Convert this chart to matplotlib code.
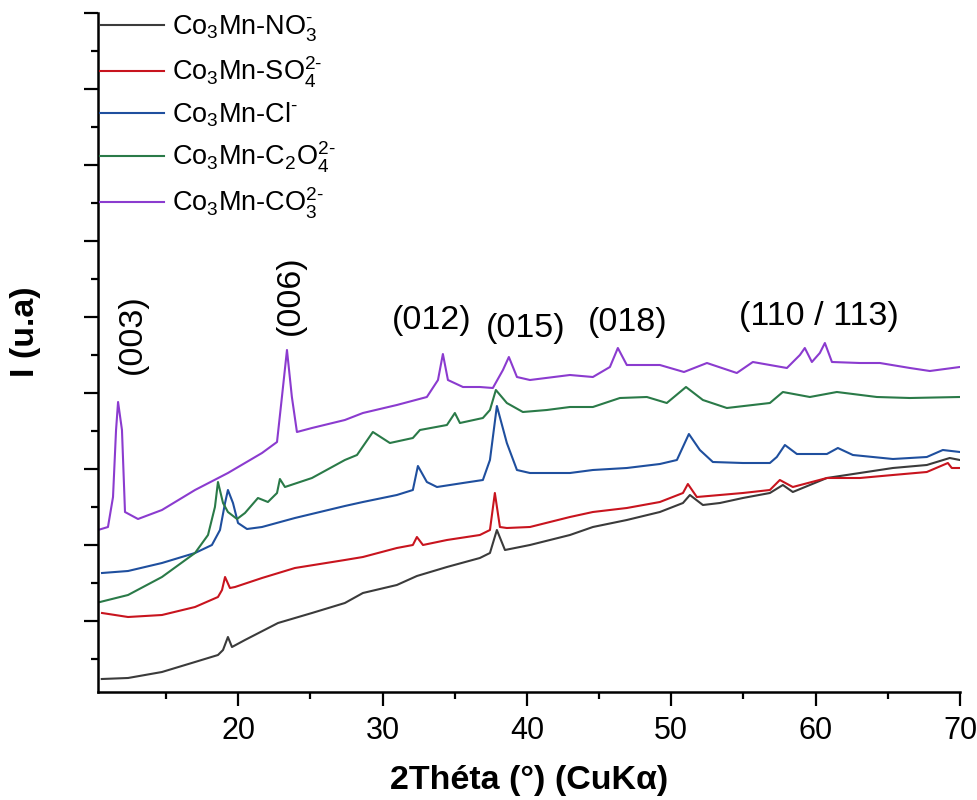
import matplotlib
matplotlib.use("Agg")
import matplotlib.pyplot as plt
import numpy as np

plt.rcParams['font.family'] = ['Liberation Sans', 'DejaVu Sans']
plt.rcParams['mathtext.fontset'] = 'custom'
plt.rcParams['mathtext.rm'] = 'Liberation Sans'
plt.rcParams['mathtext.it'] = 'Liberation Sans:italic'
plt.rcParams['mathtext.bf'] = 'Liberation Sans:bold'

# ---------------- data (2theta in degrees, intensity in a.u.) ----------------
x_no3 = [10.55, 12.37, 14.72, 17.01, 18.6, 18.95, 19.29, 19.57, 20.47, 22.76, 25.11, 27.39, 28.64,
         30.99, 32.38, 34.46, 36.74, 37.44, 37.92, 38.48, 40.21, 42.98, 44.57, 46.92, 49.21, 50.81,
         51.29, 52.19, 53.37, 54.96, 56.83, 57.73, 58.42, 60.78, 63.06, 65.35, 67.7, 69.29, 69.99]
y_no3 = [13, 14, 20, 30, 37, 42, 55, 45, 52, 69, 79, 89, 99, 107, 116, 125, 134, 139, 162, 142, 147,
         157, 165, 172, 180, 189, 197, 187, 189, 194, 199, 207, 200, 214, 219, 224, 227, 234, 232]

x_so4 = [10.57, 12.37, 14.72, 17.01, 18.6, 18.88, 19.09, 19.43, 19.78, 21.65, 23.93, 27.39, 28.64,
         30.99, 32.1, 32.38, 32.8, 34.46, 36.74, 37.44, 37.78, 38.13, 38.61, 40.21, 42.98, 44.57,
         46.92, 49.21, 50.81, 51.15, 51.77, 53.37, 54.96, 56.83, 57.52, 58.42, 60.78, 63.06, 65.35,
         67.7, 69.16, 69.43, 69.99]
y_so4 = [79, 75, 77, 85, 95, 102, 115, 104, 105, 114, 124, 132, 135, 144, 147, 155, 147, 152, 157,
         162, 199, 165, 164, 165, 175, 180, 184, 190, 199, 208, 195, 197, 199, 202, 212, 205, 214,
         214, 217, 220, 229, 224, 224]

x_cl = [10.57, 12.37, 14.72, 17.01, 18.18, 18.74, 19.09, 19.29, 19.64, 19.99, 20.61, 21.65, 23.93,
        27.39, 28.64, 30.99, 32.1, 32.45, 33.07, 33.77, 35.57, 36.95, 37.44, 37.92, 38.61, 39.31,
        40.21, 42.98, 44.57, 46.92, 49.21, 50.39, 51.22, 51.98, 52.88, 54.96, 56.83, 57.31, 57.87,
        58.7, 60.78, 61.54, 62.58, 65.35, 67.7, 68.81, 69.99]
y_cl = [119, 121, 129, 139, 147, 162, 189, 202, 189, 169, 163, 165, 174, 186, 190, 197, 202, 226,
        210, 205, 209, 212, 232, 286, 249, 222, 219, 219, 222, 224, 228, 232, 258, 242, 230, 229,
        229, 235, 247, 238, 238, 244, 237, 233, 235, 242, 240]

x_c2o4 = [10.43, 12.37, 14.72, 17.01, 17.91, 18.39, 18.6, 18.95, 19.29, 19.92, 20.47, 21.37, 22.06,
          22.69, 22.89, 23.24, 25.11, 27.39, 28.23, 29.33, 30.51, 32.1, 32.59, 34.46, 35.01, 35.36,
          36.95, 37.44, 37.85, 38.61, 39.72, 41.38, 42.98, 44.57, 46.44, 48.31, 49.69, 51.02, 52.19,
          53.85, 56.83, 57.73, 59.6, 61.47, 64.24, 66.53, 69.99]
y_c2o4 = [90, 97, 115, 139, 157, 185, 210, 189, 180, 173, 179, 194, 190, 199, 213, 205, 214, 232,
          237, 260, 249, 254, 262, 267, 279, 269, 274, 282, 302, 289, 280, 282, 285, 285, 294, 295,
          289, 305, 292, 284, 289, 300, 295, 300, 295, 294, 295]

x_co3 = [10.29, 10.98, 11.33, 11.54, 11.68, 11.95, 12.16, 13.06, 14.72, 17.01, 19.29, 21.65, 22.69,
         23.03, 23.38, 23.72, 24.07, 25.11, 27.39, 28.64, 30.99, 33.07, 33.84, 34.18, 34.53, 35.57,
         36.74, 37.64, 38.34, 38.75, 39.31, 40.21, 42.98, 44.57, 45.75, 46.3, 46.92, 49.21, 50.88,
         52.47, 54.54, 55.65, 56.83, 58.01, 58.91, 59.25, 59.74, 60.29, 60.64, 61.13, 63.06, 64.45,
         66.53, 67.91, 69.99]
y_co3 = [162, 165, 195, 262, 290, 262, 180, 173, 182, 202, 219, 239, 250, 295, 342, 295, 260, 264,
         272, 279, 287, 295, 312, 338, 312, 305, 305, 304, 322, 335, 315, 312, 317, 315, 325, 344,
         327, 327, 320, 329, 319, 330, 327, 324, 337, 344, 330, 339, 349, 330, 329, 329, 324, 321, 325]

labels = ['Co$_3$Mn-NO$_3^{\\text{-}}$', 'Co$_3$Mn-SO$_4^{2\\text{-}}$', 'Co$_3$Mn-Cl$^{\\text{-}}$',
          'Co$_3$Mn-C$_2$O$_4^{2\\text{-}}$', 'Co$_3$Mn-CO$_3^{2\\text{-}}$']
colors = ['#3b3b3b', '#c8141e', '#1f4f9e', '#2a7a48', '#8b3bcf']

peak_labels = ['(003)', '(006)', '(012)', '(015)', '(018)', '(110 / 113)']
peak_x = [12.64, 23.59, 33.42, 39.93, 46.99, 60.22]
peak_y = [358, 397, 371, 364, 370, 376]
peak_rot = [90, 90, 0, 0, 0, 0]

# ---------------- figure ----------------
fig = plt.figure(figsize=(9.77, 8.0), dpi=100)
ax = fig.add_axes([98 / 977, 108 / 800, 862 / 977, 679 / 800])

series = [(x_no3, y_no3), (x_so4, y_so4), (x_cl, y_cl), (x_c2o4, y_c2o4), (x_co3, y_co3)]
for (xs, ys), lab, c in zip(series, labels, colors):
    ax.plot(xs, ys, color=c, lw=1.5, label=lab)

for t, px, py, r in zip(peak_labels, peak_x, peak_y, peak_rot):
    ax.text(px, py, t, rotation=r, ha='center', va='center', fontsize=24.5, color='black')

ax.set_xlim(10.29, 70)
ax.set_ylim(0, 679)
ax.set_xticks([20, 30, 40, 50, 60, 70])
ax.set_xticks([15, 25, 35, 45, 55, 65], minor=True)
ax.set_yticks(np.arange(71, 680, 76))
ax.set_yticks(np.arange(33, 680, 76), minor=True)
ax.set_yticklabels([])
ax.spines['top'].set_visible(False)
ax.spines['right'].set_visible(False)
for s in ['left', 'bottom']:
    ax.spines[s].set_linewidth(1.8)
ax.tick_params(axis='both', which='major', direction='out', length=10, width=1.6, labelsize=22, pad=7)
ax.tick_params(axis='both', which='minor', direction='out', length=5, width=1.6)

ax.set_xlabel('2Théta (°) (CuKα)', fontsize=24.5, fontweight='bold', labelpad=14)
ax.set_ylabel('I (u.a)', fontsize=24.5, fontweight='bold')
ax.yaxis.set_label_coords(-0.066, 0.53)

leg = ax.legend(loc='upper left', bbox_to_anchor=(100 / 977, 1 - 13 / 800),
                bbox_transform=fig.transFigure, frameon=False, fontsize=19.5,
                handlelength=2.36, handletextpad=0.3, labelspacing=0.4,
                borderpad=0, borderaxespad=0)

fig.savefig('out.png', dpi=100)
